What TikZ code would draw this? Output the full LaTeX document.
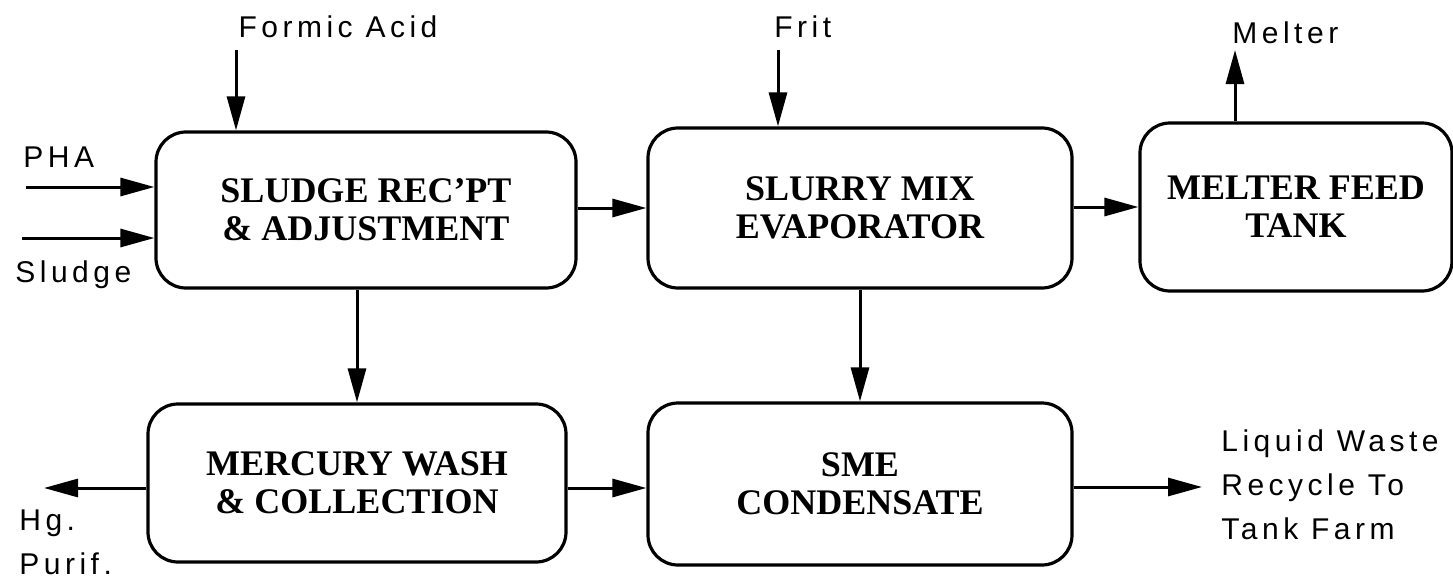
\documentclass[tikz,border=0pt]{standalone}
\usepackage{fontspec}
\setmainfont{Liberation Serif}
\newfontfamily\streamfont[LetterSpace=15]{Liberation Sans}
\usetikzlibrary{arrows.meta}
\tikzstyle{block} = [rectangle, draw, line width=1.6pt, align=center, rounded corners=15pt, font=\fontsize{18}{19}\selectfont\bfseries]
\tikzstyle{stream} = [inner sep=0pt, align=left, font=\streamfont\fontsize{15}{22}\selectfont]
\tikzstyle{line} = [draw, line width=1.5pt, -{Triangle[length=17pt,width=9pt]}]

\begin{document}
\begin{tikzpicture}[x=0.5pt, y=-0.5pt]
\useasboundingbox (0,0) rectangle (1453,578);

% process blocks
\node [block, minimum width=210pt, minimum height=78pt] at (366,210) (rec) {SLUDGE REC'PT\\\& ADJUSTMENT};
\node [block, minimum width=212pt, minimum height=80pt] at (860,208) (sme) {SLURRY MIX\\EVAPORATOR};
\node [block, minimum width=156pt, minimum height=84pt] at (1296,207) (mft) {MELTER FEED\\TANK};
\node [block, minimum width=209pt, minimum height=79pt] at (357,483) (hg) {MERCURY WASH\\\& COLLECTION};
\node [block, minimum width=212pt, minimum height=81pt] at (860,484) (cond) {SME\\CONDENSATE};

% feeds
\node [stream, anchor=base] at (338,38) (acid) {Formic Acid};
\node [stream, anchor=base west] at (774,38) (frit) {Frit};
\node [stream, anchor=base west] at (23,167) (pha) {PHA};
\node [stream, anchor=base west] at (15,282) (sl) {Sludge};
\coordinate (acidin) at (236,50);
\coordinate (fritin) at (778,50);
\coordinate (phain) at (26,187);
\coordinate (slin) at (22,238);
\path [line] (acidin) to (acidin |- rec.north);
\path [line] (fritin) to (fritin |- sme.north);
\path [line] (phain) to (phain -| rec.west);
\path [line] (slin) to (slin -| rec.west);

% products
\node [stream, anchor=base west] at (1232,43) (melt) {Melter};
\node [stream, anchor=north west] at (19,509) (purif) {Hg.\\Purif.};
\node [stream, anchor=north west] at (1221,429) (waste) {Liquid Waste\\Recycle To\\Tank Farm};
\coordinate (meltout) at (1235,50);
\coordinate (hgout) at (44,488);
\coordinate (wasteout) at (1202,487);
\path [line] (meltout |- mft.north) to (meltout);
\path [line] (hgout -| hg.west) to (hgout);
\path [line] (wasteout -| cond.east) to (wasteout);

% internal flows
\path [line] (sme.west -| rec.east) to (sme.west);
\path [line] (mft.west -| sme.east) to (mft.west);
\path [line] (hg.north |- rec.south) to (hg.north);
\path [line] (cond.north |- sme.south) to (cond.north);
\path [line] (hgout -| hg.east) to (hgout -| cond.west);

\end{tikzpicture}
\end{document}
